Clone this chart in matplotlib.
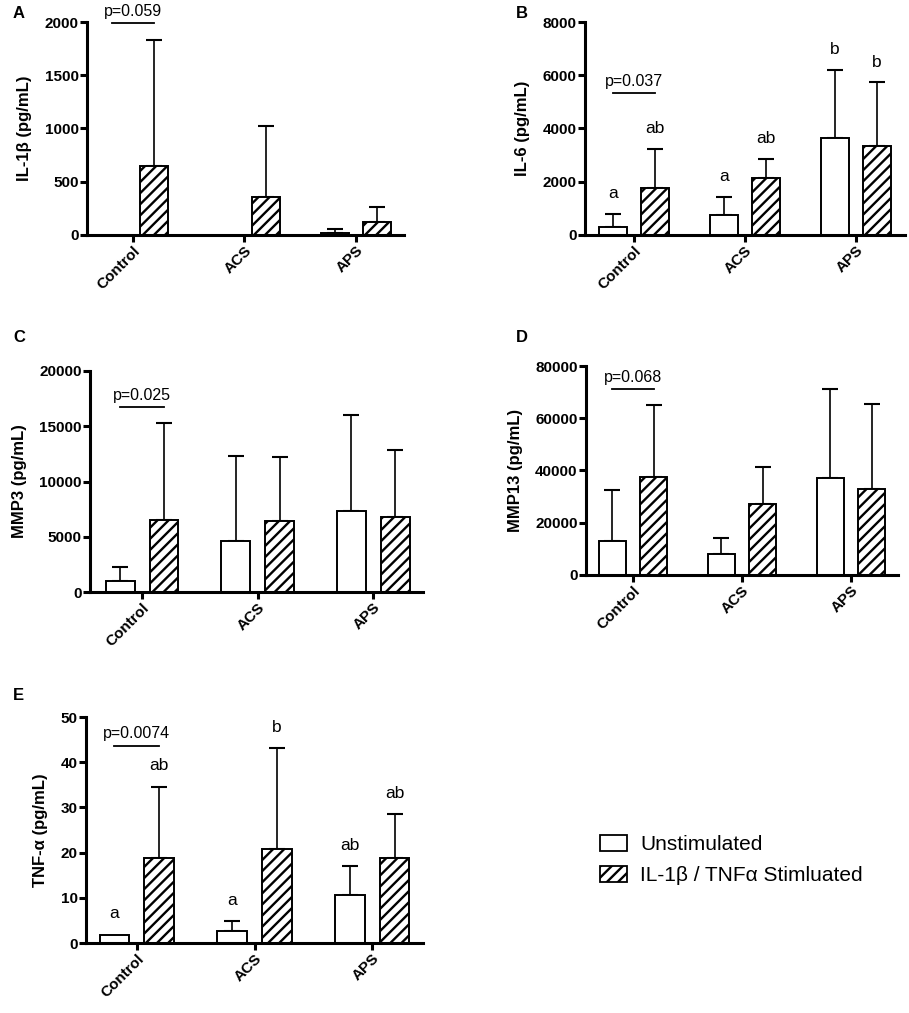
import numpy as np
import matplotlib
matplotlib.use('Agg')
import matplotlib.pyplot as plt
from matplotlib.patches import Patch

plt.rcParams['font.family'] = ['Liberation Sans', 'DejaVu Sans']
plt.rcParams['hatch.linewidth'] = 1.7

#Data (mean and SD)
groups = ['Control', 'ACS', 'APS']

il1b_unstim = [0, 0, 15]
il1b_unstim_sd = [0, 0, 37]
il1b_stim = [650, 355, 120]
il1b_stim_sd = [1185, 665, 140]

il6_unstim = [300, 750, 3650]
il6_unstim_sd = [500, 680, 2550]
il6_stim = [1750, 2150, 3350]
il6_stim_sd = [1480, 700, 2380]
il6_letters_unstim = ['a', 'a', 'b']
il6_letters_stim = ['ab', 'ab', 'b']

mmp3_unstim = [1000, 4600, 7350]
mmp3_unstim_sd = [1250, 7750, 8700]
mmp3_stim = [6550, 6400, 6800]
mmp3_stim_sd = [8750, 5800, 6050]

mmp13_unstim = [13000, 8000, 37200]
mmp13_unstim_sd = [19500, 6000, 34000]
mmp13_stim = [37500, 27000, 32800]
mmp13_stim_sd = [27500, 14500, 32700]

tnf_unstim = [1.8, 2.6, 10.6]
tnf_unstim_sd = [0, 2.2, 6.4]
tnf_stim = [18.8, 20.8, 18.8]
tnf_stim_sd = [15.8, 22.3, 9.7]
tnf_letters_unstim = ['a', 'a', 'ab']
tnf_letters_stim = ['ab', 'b', 'ab']

W, H = 909, 1013
fig = plt.figure(figsize=(W / 100, H / 100), dpi=100)


def make_ax(l, r, t, b):
    return fig.add_axes([l / W, 1 - b / H, (r - l) / W, (b - t) / H])


def panel(ax, ylabel, ymax, yticks, unstim, unstim_sd, stim, stim_sd,
          ptext, pline, let_u=None, let_s=None, xlim=(-0.43, 2.43)):
    x = np.arange(len(groups))
    off = 0.19
    w = 0.25
    ax.bar(x - off, unstim, w, color='white', edgecolor='black', linewidth=1.4, zorder=2)
    ax.bar(x + off, stim, w, color='white', edgecolor='black', linewidth=1.4,
           hatch='///', zorder=2)
    for xs, m, s in [(x - off, unstim, unstim_sd), (x + off, stim, stim_sd)]:
        for xi, mi, si in zip(xs, m, s):
            if si > 0:
                ax.errorbar(xi, mi, yerr=[[0], [si]], fmt='none', ecolor='black',
                            elinewidth=1.2, capsize=6, capthick=1.5, zorder=1)
    if let_u is not None:
        for xs, m, s, lab in [(x - off, unstim, unstim_sd, let_u), (x + off, stim, stim_sd, let_s)]:
            for xi, mi, si, li in zip(xs, m, s, lab):
                ax.text(xi, mi + si + 0.06 * ymax, li, ha='center', va='bottom', fontsize=12.5)
    # p-value bracket between control groups
    ax.plot([-off, off], [pline, pline], color='black', lw=1.3, clip_on=False)
    ax.text(0, pline + 0.02 * ymax, ptext, ha='center', va='bottom', fontsize=11.5)

    ax.set_ylim(0, ymax)
    ax.set_xlim(*xlim)
    ax.set_yticks(yticks)
    ax.set_xticks(x)
    ax.set_xticklabels(groups, rotation=45, ha='right', rotation_mode='anchor',
                       fontweight='bold', fontsize=11)
    for lab in ax.get_yticklabels():
        lab.set_fontweight('bold')
        lab.set_fontsize(11)
    ax.set_ylabel(ylabel, fontweight='bold', fontsize=12, labelpad=9)
    for sp in ['top', 'right']:
        ax.spines[sp].set_visible(False)
    for sp in ['left', 'bottom']:
        ax.spines[sp].set_linewidth(2.2)
    ax.tick_params(width=2.2, length=5, pad=1)


axA = make_ax(87, 404, 22, 235)
panel(axA, 'IL-1β (pg/mL)', 2000, [0, 500, 1000, 1500, 2000],
      il1b_unstim, il1b_unstim_sd, il1b_stim, il1b_stim_sd, 'p=0.059', 1990,
      xlim=(-0.41, 2.43))

axB = make_ax(585, 905, 22, 235)
panel(axB, 'IL-6 (pg/mL)', 8000, [0, 2000, 4000, 6000, 8000],
      il6_unstim, il6_unstim_sd, il6_stim, il6_stim_sd, 'p=0.037', 5333,
      il6_letters_unstim, il6_letters_stim, xlim=(-0.44, 2.44))

axC = make_ax(90, 423, 371, 592)
panel(axC, 'MMP3 (pg/mL)', 20000, [0, 5000, 10000, 15000, 20000],
      mmp3_unstim, mmp3_unstim_sd, mmp3_stim, mmp3_stim_sd, 'p=0.025', 16740,
      xlim=(-0.45, 2.43))

axD = make_ax(586, 898, 366, 575)
panel(axD, 'MMP13 (pg/mL)', 80000, [0, 20000, 40000, 60000, 80000],
      mmp13_unstim, mmp13_unstim_sd, mmp13_stim, mmp13_stim_sd, 'p=0.068', 71200)

axE = make_ax(86, 423, 717, 943)
panel(axE, 'TNF-α (pg/mL)', 50, [0, 10, 20, 30, 40, 50],
      tnf_unstim, tnf_unstim_sd, tnf_stim, tnf_stim_sd, 'p=0.0074', 43.6,
      tnf_letters_unstim, tnf_letters_stim)

# panel letters
for lab, (px, py) in zip(['A', 'B', 'C', 'D', 'E'],
                         [(13, 13), (516, 13), (13, 337), (516, 337), (13, 695)]):
    fig.text(px / W, 1 - py / H, lab, fontweight='bold', fontsize=12,
             ha='left', va='center')

handles = [Patch(facecolor='white', edgecolor='black', linewidth=1.3, label='Unstimulated'),
           Patch(facecolor='white', edgecolor='black', linewidth=1.3, hatch='///',
                 label='IL-1β / TNFα Stimluated')]
fig.legend(handles=handles, loc='center left', bbox_to_anchor=(592 / W, 1 - 860 / H),
           frameon=False, fontsize=15, handlelength=1.3, handleheight=0.85,
           handletextpad=0.6, labelspacing=0.55, borderaxespad=0)

fig.savefig('out.png', dpi=100)
